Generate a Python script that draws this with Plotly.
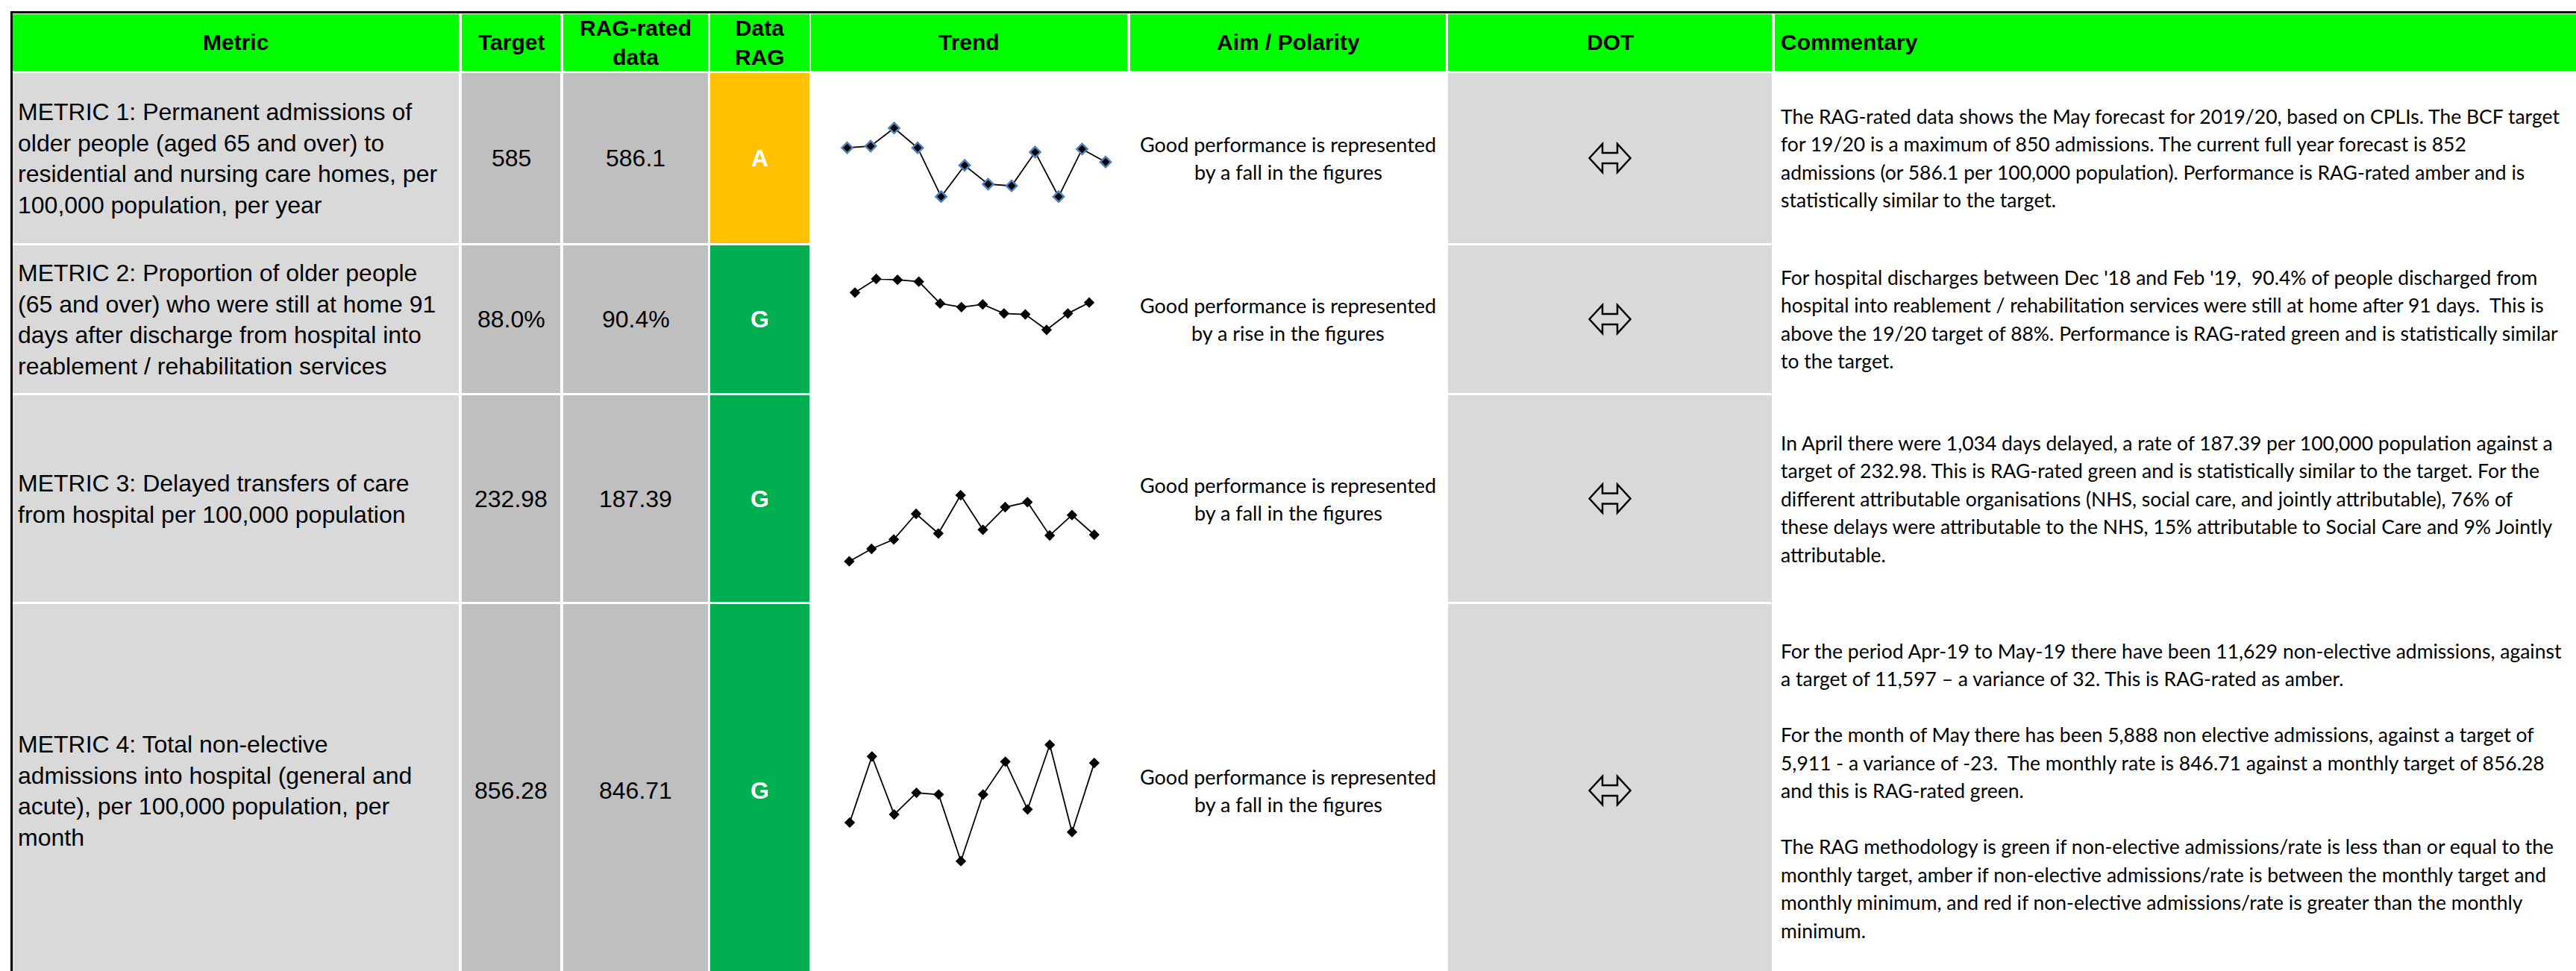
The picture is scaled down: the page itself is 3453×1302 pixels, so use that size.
import plotly.graph_objects as go

W, H = 3453, 1302

# ---------------- data ----------------
headers = ["Metric", "Target", "RAG-rated<br>data", "Data<br>RAG", "Trend", "Aim / Polarity", "DOT", "Commentary"]

metric_names = [
    "METRIC 1: Permanent admissions of<br>older people (aged 65 and over) to<br>residential and nursing care homes, per<br>100,000 population, per year",
    "METRIC 2: Proportion of older people<br>(65 and over) who were still at home 91<br>days after discharge from hospital into<br>reablement / rehabilitation services",
    "METRIC 3: Delayed transfers of care<br>from hospital per 100,000 population",
    "METRIC 4: Total non-elective<br>admissions into hospital (general and<br>acute), per 100,000 population, per<br>month",
]
targets = ["585", "88.0%", "232.98", "856.28"]
rag_values = ["586.1", "90.4%", "187.39", "846.71"]
rag_status = ["A", "G", "G", "G"]
aims = [
    ["Good performance is represented", "by a fall in the figures"],
    ["Good performance is represented", "by a rise in the figures"],
    ["Good performance is represented", "by a fall in the figures"],
    ["Good performance is represented", "by a fall in the figures"],
]
dot = ["same", "same", "same", "same"]

trend_periods = list(range(12))
trend_m1 = [609.4, 610.3, 620.0, 609.4, 583.2, 600.0, 589.9, 589.0, 607.1, 583.2, 608.7, 601.8]
trend_m2 = [91.5, 93.0, 92.9, 92.7, 90.3, 89.9, 90.2, 89.2, 89.1, 87.4, 89.2, 90.4]
trend_m3 = [151.7, 168.4, 181.1, 215.4, 189.1, 240.4, 194.1, 224.4, 231.1, 186.4, 213.7, 187.4]
trend_m4 = [806.8, 851.1, 812.2, 826.7, 825.6, 780.9, 825.6, 847.6, 815.6, 858.9, 800.4, 846.7]
trends = [trend_m1, trend_m2, trend_m3, trend_m4]

NB = "\u00a0"
commentary = [
    ["The RAG-rated data shows the May forecast for 2019/20, based on CPLIs. The BCF target",
     "for 19/20 is a maximum of 850 admissions. The current full year forecast is 852",
     "admissions (or 586.1 per 100,000 population). Performance is RAG-rated amber and is",
     "statistically similar to the target."],
    ["For hospital discharges between Dec '18 and Feb '19, " + NB + "90.4% of people discharged from",
     "hospital into reablement / rehabilitation services were still at home after 91 days. " + NB + "This is",
     "above the 19/20 target of 88%. Performance is RAG-rated green and is statistically similar",
     "to the target."],
    ["In April there were 1,034 days delayed, a rate of 187.39 per 100,000 population against a",
     "target of 232.98. This is RAG-rated green and is statistically similar to the target. For the",
     "different attributable organisations (NHS, social care, and jointly attributable), 76% of",
     "these delays were attributable to the NHS, 15% attributable to Social Care and 9% Jointly",
     "attributable."],
    ["For the period Apr-19 to May-19 there have been 11,629 non-elective admissions, against",
     "a target of 11,597 \u2013 a variance of 32. This is RAG-rated as amber.",
     "",
     "For the month of May there has been 5,888 non elective admissions, against a target of",
     "5,911 - a variance of -23. " + NB + "The monthly rate is 846.71 against a monthly target of 856.28",
     "and this is RAG-rated green.",
     "",
     "The RAG methodology is green if non-elective admissions/rate is less than or equal to the",
     "monthly target, amber if non-elective admissions/rate is between the monthly target and",
     "monthly minimum, and red if non-elective admissions/rate is greater than the monthly",
     "minimum."],
]

# ---------------- layout geometry (pixels) ----------------
cols = [(17, 615), (619, 751), (755, 949), (952, 1085), (1087, 1511), (1515, 1938), (1941, 2375), (2379, 3460)]
header_row = (19, 95)
rows = [(98, 326), (329, 527), (530, 807), (810, 1320)]
row_centers = [212, 428, 668.5, 1060]

# sparkline plot areas: x of first/last point, y of max/min point
spark_boxes = [
    (1135.6, 1482.0, 171.7, 263.7),
    (1146.0, 1460.0, 374.0, 442.3),
    (1138.4, 1466.8, 664.0, 752.7),
    (1139.0, 1466.8, 998.7, 1154.7),
]

HEADER_GREEN = "#00FF00"
LIGHT_GREY = "#D9D9D9"
MID_GREY = "#BFBFBF"
RAG_COLORS = {"A": "#FFC000", "G": "#00B050", "R": "#FF0000"}
ARIAL = "Liberation Sans, Arial, sans-serif"
CALIBRI = "Lato, Carlito, Calibri, sans-serif"


def px(x):
    return x / W


def py(y):
    return 1 - y / H


shapes = []
annotations = []


def rect(x0, y0, x1, y1, color):
    shapes.append(dict(type="rect", xref="paper", yref="paper", x0=px(x0), x1=px(x1),
                       y0=py(y1), y1=py(y0), fillcolor=color, line=dict(width=0), layer="below"))


# header cells
for (c0, c1) in cols:
    rect(c0, header_row[0], c1, header_row[1], HEADER_GREEN)

# data cells
for r, (r0, r1) in enumerate(rows):
    fills = [LIGHT_GREY, MID_GREY, MID_GREY, RAG_COLORS[rag_status[r]], "white", "white", LIGHT_GREY, "white"]
    for (c0, c1), f in zip(cols, fills):
        if f != "white":
            rect(c0, r0, c1, r1, f)

# black outer borders (top and left)
rect(14, 15, W + 5, 18, "black")
rect(14, 15, 17, H + 10, "black")

# header texts
hy = (header_row[0] + header_row[1]) / 2
for i, h in enumerate(headers):
    c0, c1 = cols[i]
    if h == "Commentary":
        annotations.append(dict(x=px(2385), y=py(hy), xref="paper", yref="paper", text="<b>" + h + "</b>",
                                showarrow=False, xanchor="left", yanchor="middle", align="left",
                                font=dict(family=ARIAL, size=30, color="black")))
    else:
        annotations.append(dict(x=px((c0 + c1) / 2), y=py(hy), xref="paper", yref="paper",
                                text="<b>" + h + "</b>", showarrow=False, xanchor="center",
                                yanchor="middle", align="center",
                                font=dict(family=ARIAL, size=30, color="black")))

# row texts
for r in range(4):
    cy = row_centers[r]
    annotations.append(dict(x=px(22), y=py(cy), xref="paper", yref="paper", text=metric_names[r],
                            showarrow=False, xanchor="left", yanchor="middle", align="left",
                            font=dict(family=ARIAL, size=32, color="black")))
    annotations.append(dict(x=px((cols[1][0] + cols[1][1]) / 2), y=py(cy), xref="paper", yref="paper",
                            text=targets[r], showarrow=False, xanchor="center", yanchor="middle",
                            font=dict(family=ARIAL, size=32, color="black")))
    annotations.append(dict(x=px((cols[2][0] + cols[2][1]) / 2), y=py(cy), xref="paper", yref="paper",
                            text=rag_values[r], showarrow=False, xanchor="center", yanchor="middle",
                            font=dict(family=ARIAL, size=32, color="black")))
    annotations.append(dict(x=px((cols[3][0] + cols[3][1]) / 2), y=py(cy), xref="paper", yref="paper",
                            text="<b>" + rag_status[r] + "</b>", showarrow=False, xanchor="center",
                            yanchor="middle", font=dict(family=ARIAL, size=32, color="white")))
    # aim / polarity
    lh = 37
    n = len(aims[r])
    for k, line in enumerate(aims[r]):
        ly = cy + (k - (n - 1) / 2) * lh
        annotations.append(dict(x=px((cols[5][0] + cols[5][1]) / 2), y=py(ly), xref="paper", yref="paper",
                                text=line, showarrow=False, xanchor="center", yanchor="middle",
                                font=dict(family=CALIBRI, size=27, color="black")))
    # commentary
    n = len(commentary[r])
    lh = 37.5
    for k, line in enumerate(commentary[r]):
        if not line:
            continue
        ly = cy + (k - (n - 1) / 2) * lh
        annotations.append(dict(x=px(2385), y=py(ly), xref="paper", yref="paper", text=line,
                                showarrow=False, xanchor="left", yanchor="middle", align="left",
                                font=dict(family=CALIBRI, size=26.5, color="black")))
    # DOT arrow (hollow left-right arrow)
    if dot[r] == "same":
        cx = (cols[6][0] + cols[6][1]) / 2
        pts = [(-27.5, 0), (-10, -19), (-10, -7), (10, -7), (10, -19), (27.5, 0),
               (10, 19), (10, 7), (-10, 7), (-10, 19)]
        path = "M " + " L ".join(f"{px(cx + dx):.6f},{py(cy + dy):.6f}" for dx, dy in pts) + " Z"
        shapes.append(dict(type="path", xref="paper", yref="paper", path=path,
                           line=dict(color="black", width=2.5), fillcolor="rgba(0,0,0,0)"))

fig = go.Figure()

layout_axes = {}
for i, (vals, box) in enumerate(zip(trends, spark_boxes)):
    sfx = "" if i == 0 else str(i + 1)
    x0, x1, ytop, ybot = box
    if i == 0:
        marker = dict(symbol="diamond", size=11, color="black", line=dict(color="#4F81BD", width=2.5))
    else:
        marker = dict(symbol="diamond", size=11, color="black")
    fig.add_trace(go.Scatter(x=trend_periods, y=vals, mode="lines+markers",
                             line=dict(color="black", width=1.8), marker=marker,
                             xaxis="x" + sfx, yaxis="y" + sfx, showlegend=False, cliponaxis=False,
                             hoverinfo="y"))
    layout_axes["xaxis" + sfx] = dict(domain=[px(x0), px(x1)], range=[min(trend_periods), max(trend_periods)],
                                      visible=False, fixedrange=True)
    layout_axes["yaxis" + sfx] = dict(domain=[py(ybot), py(ytop)], range=[min(vals), max(vals)],
                                      visible=False, fixedrange=True)

fig.update_layout(width=W, height=H, autosize=False, margin=dict(l=0, r=0, t=0, b=0, pad=0),
                  paper_bgcolor="white", plot_bgcolor="rgba(0,0,0,0)",
                  shapes=shapes, annotations=annotations, **layout_axes)

fig.write_html("out.html", config={"displayModeBar": False},
               post_script="document.body.style.margin='0px';document.body.style.overflow='hidden';")
